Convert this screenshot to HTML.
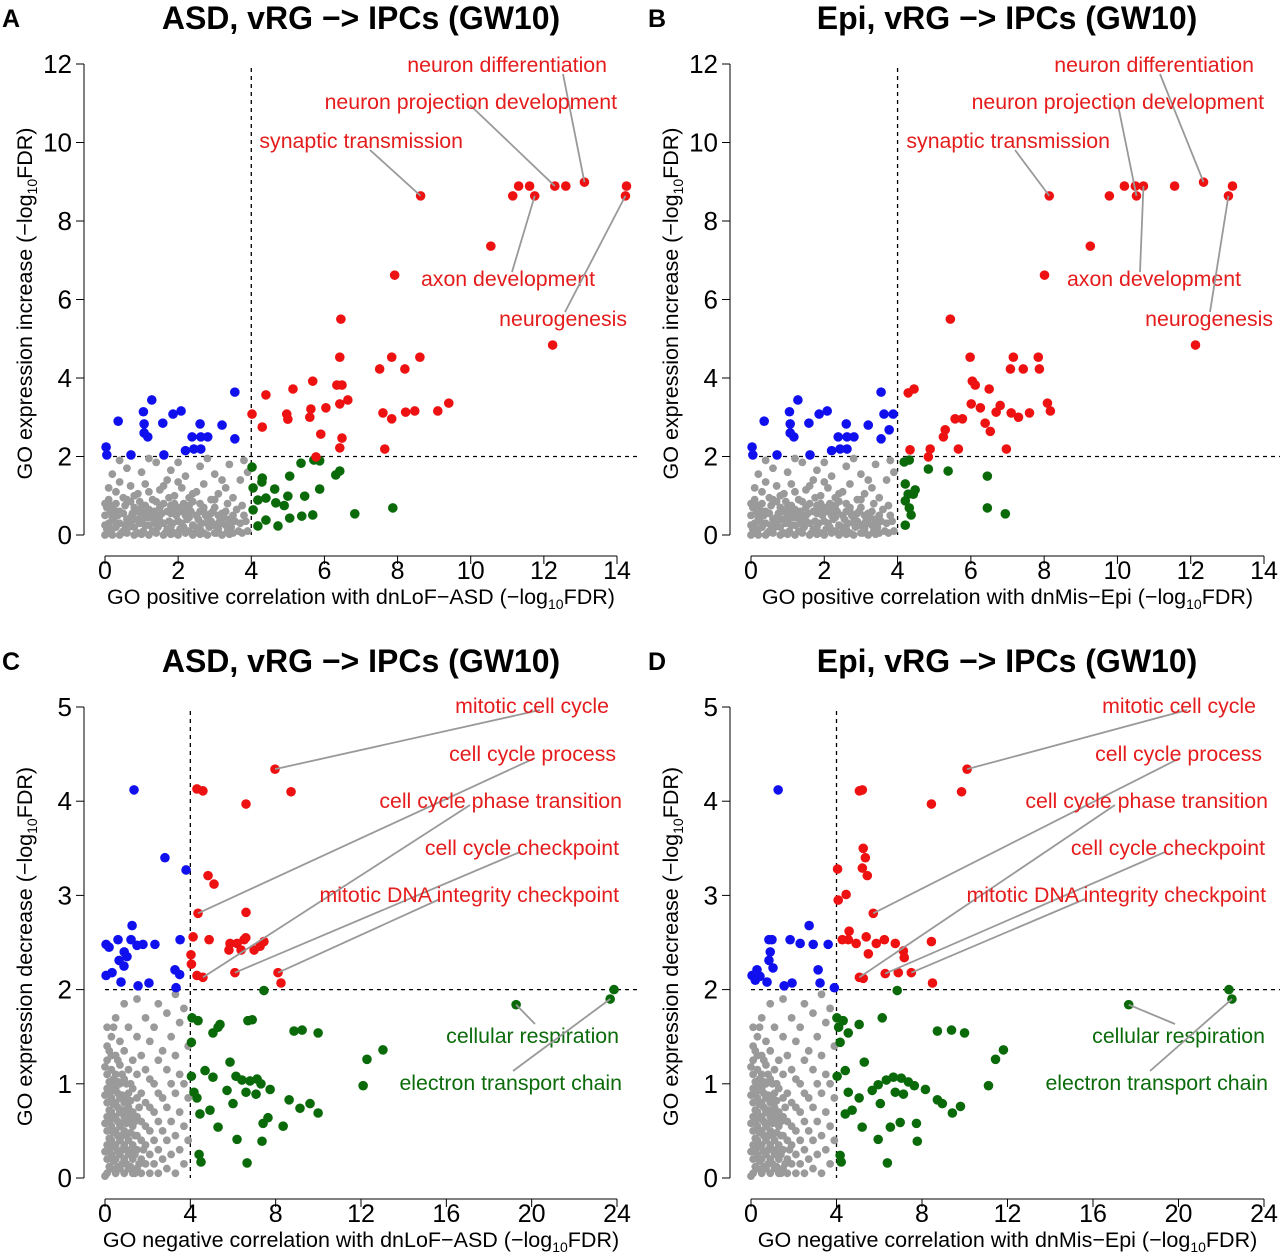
<!DOCTYPE html>
<html><head><meta charset="utf-8">
<style>
html,body{margin:0;padding:0;background:#fff;}
svg{display:block;font-family:"Liberation Sans",Arial,sans-serif;}
</style></head>
<body>
<svg id="fig" width="1280" height="1253" viewBox="0 0 1280 1253" xmlns="http://www.w3.org/2000/svg"></svg>
<script>
// ===== Data (x, y pairs in data units) =====
const redA = [8.63,8.64, 13.11,8.99, 12.30,8.89, 12.60,8.89, 11.31,8.89, 11.61,8.89, 11.15,8.64, 11.75,8.64, 14.26,8.89, 14.23,8.64, 10.55,7.36, 7.92,6.62, 12.24,4.84, 6.45,5.50, 6.42,4.53, 7.51,4.23, 7.84,4.53, 8.61,4.53, 8.20,4.23, 5.68,3.92, 5.14,3.72, 6.34,3.82, 6.48,3.82, 4.40,3.57, 9.40,3.36, 9.10,3.16, 8.47,3.16, 4.02,3.08, 4.97,3.08, 5.63,3.21, 6.04,3.24, 6.42,3.34, 6.64,3.44, 7.60,3.11, 7.84,2.96, 8.22,3.13, 5.90,2.57, 6.48,2.47, 7.65,2.19, 5.77,1.99, 6.42,2.22, 4.30,2.75, 5.0,2.95, 5.6,3.0];
const greenA = [4.02,1.73, 4.29,1.35, 4.64,1.17, 5.05,1.50, 5.36,1.83, 5.71,1.91, 5.87,1.89, 6.31,1.53, 6.42,1.63, 4.40,0.94, 4.05,0.64, 4.40,0.38, 5.05,0.43, 5.38,0.48, 5.68,0.51, 6.83,0.54, 7.87,0.69, 4.18,0.89, 4.67,0.82, 5.00,0.99, 5.87,1.17, 5.46,0.99, 4.05,1.20, 4.73,0.23, 4.18,0.23, 4.30,1.45, 4.9,0.75];
const blueA = [0.03,2.24, 0.05,2.04, 0.71,2.04, 1.17,2.50, 1.07,2.83, 1.28,3.44, 1.05,3.14, 0.36,2.90, 1.07,2.60, 1.58,2.85, 1.61,2.04, 1.86,3.08, 2.08,3.16, 2.38,2.50, 2.60,2.83, 2.81,2.50, 2.62,2.19, 2.43,2.19, 3.20,2.80, 3.55,3.64, 3.55,2.45, 2.62,2.50, 2.2,2.15];
const redB = [8.14,8.64, 12.35,8.99, 10.49,8.89, 10.71,8.89, 10.19,8.89, 9.78,8.64, 10.52,8.64, 11.56,8.89, 13.14,8.89, 13.03,8.64, 9.26,7.36, 8.01,6.62, 12.13,4.84, 5.44,5.50, 4.29,3.62, 4.45,3.72, 5.98,4.53, 6.04,3.92, 6.12,3.82, 7.16,4.53, 7.84,4.53, 7.87,4.23, 7.43,4.23, 7.08,4.23, 8.09,3.36, 8.17,3.16, 6.50,3.72, 6.01,3.34, 5.77,2.96, 5.57,2.96, 5.25,2.50, 6.26,3.24, 6.69,3.13, 7.10,3.11, 7.60,3.11, 6.97,2.19, 6.39,2.85, 4.89,2.19, 5.66,2.19, 5.30,2.68, 6.53,2.64, 4.34,2.17, 4.84,1.99, 6.8,3.3, 7.3,3.0];
const greenB = [4.18,1.86, 4.32,1.91, 4.21,1.30, 4.29,1.04, 4.43,1.04, 4.21,0.87, 4.37,0.51, 4.21,0.25, 4.84,1.68, 5.38,1.63, 6.45,1.50, 6.45,0.69, 6.94,0.54, 4.32,0.69, 4.48,1.15];
const blueB = [0.03,2.24, 0.05,2.04, 0.71,2.04, 1.17,2.50, 1.07,2.83, 1.28,3.44, 1.05,3.14, 0.36,2.90, 1.07,2.60, 1.58,2.85, 1.61,2.04, 1.86,3.08, 2.08,3.16, 2.38,2.50, 2.60,2.83, 2.81,2.50, 2.62,2.19, 2.43,2.19, 3.20,2.80, 3.55,3.64, 3.55,2.45, 2.62,2.50, 2.2,2.15, 3.63,3.08, 3.88,3.08, 3.77,2.68];
const grayAB = [0.1,0.05, 0.3,0.2, 0.5,0.1, 0.7,0.3, 0.9,0.05, 1.1,0.25, 1.3,0.1, 1.5,0.35, 1.7,0.15, 1.9,0.05, 2.1,0.3, 2.3,0.1, 2.5,0.2, 2.7,0.05, 2.9,0.35, 3.1,0.15, 3.3,0.25, 3.5,0.05, 3.7,0.3, 3.9,0.1,
 0.2,0.45, 0.4,0.6, 0.6,0.4, 0.8,0.7, 1.0,0.5, 1.2,0.65, 1.4,0.45, 1.6,0.8, 1.8,0.55, 2.0,0.7, 2.2,0.5, 2.4,0.85, 2.6,0.6, 2.8,0.45, 3.0,0.7, 3.2,0.55, 3.4,0.4, 3.6,0.65, 3.8,0.5,
 0.1,0.9, 0.3,1.1, 0.5,0.95, 0.7,1.25, 0.9,1.05, 1.1,1.3, 1.3,0.9, 1.5,1.15, 1.7,1.4, 1.9,1.0, 2.1,1.2, 2.3,0.95, 2.5,1.1, 2.7,1.3, 2.9,0.9, 3.1,1.05, 3.3,1.2, 3.5,0.95, 3.7,1.4, 3.9,1.6,
 0.2,1.55, 0.6,1.7, 1.0,1.6, 1.4,1.85, 1.8,1.65, 2.2,1.5, 2.6,1.75, 3.0,1.55, 3.4,1.8, 3.8,1.9, 0.4,1.9, 1.2,1.95, 2.0,1.85, 2.8,1.95,
 0.05,0.15, 0.25,0.35, 0.45,0.05, 0.65,0.2, 0.85,0.4, 1.05,0.1, 1.25,0.45, 1.45,0.2, 1.65,0.05, 1.85,0.3, 2.05,0.15, 2.25,0.4, 2.45,0.05, 2.65,0.3, 2.85,0.2, 3.05,0.05, 3.25,0.45, 3.45,0.2, 3.65,0.1, 3.85,0.35,
 0.15,0.6, 0.55,0.75, 0.95,0.85, 1.35,0.6, 1.75,0.95, 2.15,0.8, 2.55,0.4, 2.95,0.6, 3.35,0.8, 3.75,0.75,
 0.1,0.3, 0.2,0.15, 0.35,0.5, 0.55,0.25, 0.75,0.55, 0.95,0.3, 1.15,0.45, 1.35,0.3, 1.55,0.55, 1.75,0.35, 1.95,0.5, 2.15,0.2, 2.35,0.6, 2.55,0.1, 2.75,0.5, 2.95,0.25, 3.15,0.4, 3.35,0.1, 3.55,0.35, 3.75,0.05,
 0.05,0.7, 0.3,0.8, 0.5,0.55, 0.7,0.85, 0.9,0.6, 1.1,0.75, 1.3,0.5, 1.5,0.7, 1.7,0.6, 1.9,0.8, 2.1,0.6, 2.3,0.75, 2.5,0.5, 2.7,0.7, 2.9,0.55, 3.1,0.3, 3.3,0.6, 3.5,0.5, 0.1,1.2, 0.4,1.35, 0.8,1.0, 1.2,1.1, 1.6,1.25, 2.0,1.35, 2.4,1.05, 3.2,1.4,
 0.0,0.0, 0.2,0.0, 0.4,0.0, 0.6,0.05, 0.8,0.0, 1.0,0.02, 1.2,0.0, 1.4,0.05, 1.6,0.0, 1.8,0.02, 2.0,0.0, 2.2,0.05, 2.4,0.0, 2.6,0.02, 2.8,0.0, 3.0,0.05, 3.2,0.0, 3.4,0.02,
 0.0,0.25, 0.4,0.3, 0.6,0.3, 0.8,0.2, 1.0,0.35, 1.2,0.25, 1.6,0.3, 1.8,0.2, 2.0,0.35, 2.4,0.25, 2.6,0.15, 2.8,0.3, 3.0,0.25, 3.2,0.3, 3.4,0.3, 0.0,0.5, 0.3,0.6, 0.7,0.45, 1.1,0.55, 1.5,0.5, 1.9,0.65, 2.3,0.45, 2.7,0.6, 3.1,0.5, 0.0,0.8, 0.2,0.75, 0.6,0.9, 1.0,0.7, 1.4,0.85, 1.8,0.75, 2.2,0.65, 2.6,0.8, 3.0,0.9];
const redC = [7.97,4.34, 4.31,4.13, 4.59,4.11, 6.61,3.97, 8.72,4.10, 4.83,3.21, 5.11,3.12, 4.36,2.81, 6.61,2.82, 6.52,2.53, 6.19,2.49, 5.86,2.49, 6.38,2.42, 6.99,2.42, 7.27,2.46, 7.45,2.51, 4.13,2.56, 4.03,2.37, 4.31,2.15, 4.59,2.13, 4.05,2.27, 6.09,2.18, 8.11,2.18, 8.25,2.07, 5.81,2.42, 4.88,2.53, 6.6,2.55];
const blueC = [1.36,4.12, 2.81,3.40, 3.80,3.27, 1.27,2.68, 0.61,2.53, 1.22,2.53, 0.05,2.48, 0.19,2.45, 2.34,2.48, 1.78,2.48, 3.52,2.53, 0.05,2.15, 0.33,2.18, 0.89,2.25, 1.03,2.35, 0.75,2.08, 1.55,2.04, 2.06,2.07, 3.28,2.21, 3.33,2.02, 0.66,2.31, 0.9,2.4, 1.5,2.47, 3.5,2.16];
const greenC = [23.86,2.00, 23.68,1.90, 19.27,1.84, 4.08,1.70, 4.36,1.67, 5.06,1.54, 5.39,1.63, 6.70,1.67, 7.45,1.99, 8.86,1.56, 9.24,1.57, 9.99,1.54, 13.03,1.36, 12.28,1.26, 12.10,0.98, 4.05,1.44, 4.05,1.08, 4.69,1.14, 4.17,0.91, 5.06,1.07, 5.86,1.23, 6.14,1.08, 6.42,1.04, 6.80,1.03, 7.13,1.05, 7.31,1.00, 6.61,0.91, 7.74,0.94, 8.63,0.83, 9.61,0.79, 9.99,0.69, 9.14,0.74, 4.92,0.72, 4.45,0.68, 5.30,0.54, 7.36,0.39, 7.41,0.58, 8.35,0.55, 6.19,0.41, 4.41,0.25, 4.50,0.17, 6.66,0.16, 4.31,0.85, 5.72,0.93, 6.00,0.79, 7.08,0.89, 7.64,0.64, 5.3,1.6, 6.9,1.68];
const redD = [10.11,4.34, 5.07,4.11, 5.21,4.12, 8.44,3.97, 9.85,4.10, 5.25,3.50, 5.35,3.40, 5.21,3.29, 5.44,3.21, 5.72,2.81, 4.05,3.28, 4.08,2.95, 4.45,3.01, 4.27,2.53, 4.55,2.53, 4.92,2.49, 4.59,2.62, 5.39,2.56, 5.86,2.49, 6.24,2.53, 6.75,2.49, 7.13,2.41, 7.17,2.34, 6.89,2.18, 6.28,2.17, 8.44,2.51, 8.49,2.07, 5.07,2.13, 5.25,2.12, 7.50,2.18, 5.49,2.38];
const blueD = [1.27,4.12, 0.84,2.53, 0.98,2.53, 1.83,2.53, 2.30,2.49, 2.91,2.48, 2.72,2.68, 0.05,2.15, 0.28,2.21, 0.84,2.31, 1.03,2.23, 0.75,2.08, 1.55,2.04, 1.92,2.07, 3.23,2.07, 3.14,2.21, 3.61,2.48, 3.90,2.02, 0.42,2.14, 0.9,2.4, 0.2,2.1];
const greenD = [22.36,2.00, 22.50,1.90, 17.67,1.84, 4.02,1.70, 4.31,1.67, 4.55,1.54, 5.06,1.63, 6.14,1.70, 6.84,1.99, 8.72,1.56, 9.38,1.57, 9.99,1.54, 11.81,1.36, 11.44,1.26, 11.11,0.98, 4.17,1.44, 4.03,1.08, 4.41,1.14, 4.55,0.91, 5.30,1.23, 5.95,0.99, 6.33,1.04, 6.66,1.07, 7.03,1.06, 7.36,1.02, 7.64,0.98, 6.75,0.91, 8.16,0.94, 8.72,0.83, 8.95,0.79, 9.80,0.76, 9.42,0.69, 4.73,0.72, 4.41,0.68, 5.20,0.54, 6.52,0.54, 6.98,0.59, 7.78,0.39, 5.95,0.41, 4.17,0.24, 4.22,0.17, 6.38,0.16, 5.06,0.85, 5.67,0.93, 6.05,0.79, 7.13,0.89, 7.74,0.58, 4.1,1.6];
const grayCD = [0.1,0.05, 0.1,0.2, 0.1,0.35, 0.1,0.5, 0.1,0.65, 0.1,0.8, 0.1,0.95, 0.1,1.1, 0.1,1.25, 0.1,1.4, 0.1,1.6,
 0.3,0.1, 0.3,0.25, 0.3,0.4, 0.3,0.55, 0.3,0.7, 0.3,0.85, 0.3,1.0, 0.3,1.15, 0.3,1.3, 0.3,1.5,
 0.5,0.05, 0.5,0.2, 0.5,0.35, 0.5,0.5, 0.5,0.65, 0.5,0.8, 0.5,0.95, 0.5,1.1, 0.5,1.3, 0.5,1.7,
 0.7,0.1, 0.7,0.25, 0.7,0.4, 0.7,0.55, 0.7,0.7, 0.7,0.85, 0.7,1.0, 0.7,1.2, 0.7,1.45,
 0.9,0.05, 0.9,0.2, 0.9,0.35, 0.9,0.5, 0.9,0.65, 0.9,0.8, 0.9,1.05, 0.9,1.35, 0.9,1.85,
 1.1,0.1, 1.1,0.25, 1.1,0.4, 1.1,0.6, 1.1,0.75, 1.1,0.9, 1.1,1.15, 1.1,1.6,
 1.3,0.05, 1.3,0.2, 1.3,0.35, 1.3,0.55, 1.3,0.7, 1.3,0.95, 1.3,1.25,
 1.5,0.1, 1.5,0.3, 1.5,0.45, 1.5,0.65, 1.5,0.85, 1.5,1.1, 1.5,1.5, 1.5,1.9,
 1.7,0.05, 1.7,0.2, 1.7,0.4, 1.7,0.6, 1.7,0.9, 1.7,1.3,
 1.9,0.15, 1.9,0.35, 1.9,0.55, 1.9,0.8, 1.9,1.15, 1.9,1.7,
 2.1,0.05, 2.1,0.25, 2.1,0.5, 2.1,0.75, 2.1,1.05, 2.1,1.45,
 2.3,0.15, 2.3,0.4, 2.3,0.7, 2.3,1.0, 2.3,1.6,
 2.5,0.05, 2.5,0.3, 2.5,0.6, 2.5,0.9, 2.5,1.25, 2.5,1.85,
 2.7,0.2, 2.7,0.5, 2.7,0.85, 2.7,1.35, 2.9,0.1, 2.9,0.4, 2.9,0.75, 2.9,1.15, 2.9,1.75,
 3.1,0.25, 3.1,0.6, 3.1,1.0, 3.1,1.5, 3.3,0.05, 3.3,0.45, 3.3,0.9, 3.3,1.3, 3.3,1.95,
 3.5,0.3, 3.5,0.7, 3.5,1.1, 3.5,1.65, 3.7,0.15, 3.7,0.55, 3.7,1.0, 3.7,1.8, 3.9,0.4, 3.9,0.85, 3.9,1.4,
 0.2,0.12, 0.2,0.42, 0.2,0.72, 0.2,1.02, 0.4,0.18, 0.4,0.48, 0.4,0.78, 0.4,1.05, 0.6,0.12, 0.6,0.45, 0.6,0.75, 0.6,1.02,
 0.8,0.15, 0.8,0.45, 0.8,0.72, 1.0,0.15, 1.0,0.45, 1.0,0.7, 1.2,0.12, 1.2,0.48, 1.2,0.82, 1.4,0.25, 1.4,0.6, 0.2,1.35, 0.6,1.25, 0.4,1.6,
 0.0,0.02, 0.0,0.28, 0.0,0.58, 0.0,0.88, 0.0,1.18, 0.2,0.28, 0.2,0.58, 0.2,0.88, 0.4,0.33, 0.4,0.63, 0.4,0.93, 0.6,0.28, 0.6,0.6, 0.6,0.9,
 0.8,0.3, 0.8,0.58, 0.8,0.88, 1.0,0.3, 1.0,0.58, 1.0,0.85, 1.2,0.3, 1.2,0.65, 1.0,1.0, 0.8,1.1, 1.4,0.05, 1.4,0.45, 1.6,0.15, 1.6,0.75, 1.8,0.3, 1.2,1.0];
const xTicksAB = [0,2,4,6,8,10,12,14];
const yTicksAB = [0,2,4,6,8,10,12];
const xTicksCD = [0,4,8,12,16,20,24];
const yTicksCD = [0,1,2,3,4,5];

const NS = "http://www.w3.org/2000/svg";
const svg = document.getElementById('fig');
function el(tag, attrs, parent, text){
  const e = document.createElementNS(NS, tag);
  for (const k in attrs) e.setAttribute(k, attrs[k]);
  if (text !== undefined) e.textContent = text;
  (parent || svg).appendChild(e);
  return e;
}

function panel(p){
  const g = el('g', {});
  
  
  const sx = v => p.x0 + (v - p.xmin) / (p.xmax - p.xmin) * (p.x1 - p.x0);
  const sy = v => p.y0 - (v - p.ymin) / (p.ymax - p.ymin) * (p.y0 - p.y1);
  const lt = el('text', {x: p.letterX, y: p.titleY - 2, 'font-size': 25, 'font-weight': 'bold'}, g, p.letter);
  
  
  const tt = el('text', {x: p.titleX, y: p.titleY, 'font-size': 32, 'font-weight': 'bold', 'text-anchor': 'middle'}, g, p.title);
  
  
  const ya = el('line', {x1: p.yAxisX, x2: p.yAxisX, y1: sy(p.ymax), y2: sy(p.ymin), stroke: '#000', 'stroke-width': 1}, g);
  
  
  p.yTicks.forEach(t => {
    const tk = el('line', {x1: p.yAxisX - 8, x2: p.yAxisX, y1: sy(t), y2: sy(t), stroke: '#000'}, g);
    
    
    const tl = el('text', {x: p.yAxisX - 12, y: sy(t) + 9, 'font-size': 26, 'text-anchor': 'end'}, g, String(t));
    
    
  });
  const xa = el('line', {x1: sx(p.xmin), x2: sx(p.xmax), y1: p.xAxisY, y2: p.xAxisY, stroke: '#000'}, g);
  
  
  p.xTicks.forEach(t => {
    const tk = el('line', {x1: sx(t), x2: sx(t), y1: p.xAxisY, y2: p.xAxisY + 8, stroke: '#000'}, g);
    
    
    const tl = el('text', {x: sx(t), y: p.xAxisY + 23, 'font-size': 25, 'text-anchor': 'middle'}, g, String(t));
    
    
  });
  const xt = el('text', {x: (sx(p.xmin)+sx(p.xmax))/2, y: p.xAxisY + 48, 'font-size': 21.5, 'text-anchor': 'middle'}, g);
  
  
  el('tspan', {}, xt, p.xTitle + ' (\u2212log');
  el('tspan', {'font-size': 14, dy: 5}, xt, '10');
  el('tspan', {dy: -5}, xt, 'FDR)');
  const cy = (p.y0 + p.y1)/2 + 4;
  const yt = el('text', {x: 0, y: 0, 'font-size': 21.5, 'text-anchor': 'middle', transform: `translate(${p.yTitleX},${cy}) rotate(-90)`}, g);
  
  
  el('tspan', {}, yt, p.yTitle + ' (\u2212log');
  el('tspan', {'font-size': 14, dy: 5}, yt, '10');
  el('tspan', {dy: -5}, yt, 'FDR)');
  const vd = el('line', {x1: sx(4), x2: sx(4), y1: p.vTop, y2: sy(p.ymin), stroke: '#000', 'stroke-dasharray': '4,4', 'stroke-width': 1.3}, g);
  
  
  const hd = el('line', {x1: sx(p.xmin), x2: p.hRight, y1: sy(2), y2: sy(2), stroke: '#000', 'stroke-dasharray': '4,4', 'stroke-width': 1.3}, g);
  
  
  function pts(arr, color, r, nm){
    for (let i = 0; i < arr.length; i += 2){
      const c = el('circle', {cx: sx(arr[i]), cy: sy(arr[i+1]), r: r, fill: color}, g);
      
      
    }
  }
  pts(p.gray, '#9a9a9a', 3.9, 'point-nonsignificant');
  pts(p.green, '#0a6a0a', 4.8, 'point-green');
  pts(p.blue, '#1010ee', 4.8, 'point-blue');
  pts(p.red, '#ee1111', 4.8, 'point-red');
  p.labels.forEach(L => {
    L.targets.forEach(tg => {
      const ln = el('line', {x1: L.lx, y1: L.ly, x2: sx(tg[0]), y2: sy(tg[1]), stroke: '#999', 'stroke-width': 1.8}, g);
      
      
    });
    const t = el('text', {x: L.x, y: L.y, 'font-size': 21.3, 'text-anchor': 'end', fill: L.color}, g, L.text);
    
    
  });
}

const R = '#e51c1c', G = '#0b6b0b';
const baseAB = {xmin:0,xmax:14,ymin:0,ymax:12,y0:535,y1:64,xTicks:xTicksAB,yTicks:yTicksAB,titleY:29,xAxisY:556,vTop:68,yTitle:'GO expression increase'};
const baseCD = {xmin:0,xmax:24,ymin:0,ymax:5,y0:1178,y1:707,xTicks:xTicksCD,yTicks:yTicksCD,titleY:672,xAxisY:1199,vTop:711,yTitle:'GO expression decrease'};

panel(Object.assign({}, baseAB, {name:'panel-a', letter:'A', letterX:2, title:'ASD, vRG \u2212> IPCs (GW10)', titleX:361,
  x0:105, x1:617, yAxisX:84, yTitleX:32, hRight:640, xTitle:'GO positive correlation with dnLoF\u2212ASD',
  red:redA, green:greenA, blue:blueA, gray:grayAB,
  labels:[
    {text:'neuron differentiation', x:607, y:72, color:R, lx:563, ly:74, targets:[[13.11,8.99]]},
    {text:'neuron projection development', x:617, y:109, color:R, lx:470, ly:105, targets:[[12.30,8.89]]},
    {text:'synaptic transmission', x:463, y:148, color:R, lx:370, ly:150, targets:[[8.63,8.64]]},
    {text:'axon development', x:595, y:286, color:R, lx:512, ly:272, targets:[[11.75,8.64]]},
    {text:'neurogenesis', x:627, y:326, color:R, lx:565, ly:312, targets:[[14.23,8.64]]}
  ]}));
panel(Object.assign({}, baseAB, {name:'panel-b', letter:'B', letterX:648, title:'Epi, vRG \u2212> IPCs (GW10)', titleX:1007,
  x0:751, x1:1264, yAxisX:730, yTitleX:678, hRight:1280, xTitle:'GO positive correlation with dnMis\u2212Epi',
  red:redB, green:greenB, blue:blueB, gray:grayAB,
  labels:[
    {text:'neuron differentiation', x:1254, y:72, color:R, lx:1160, ly:74, targets:[[12.35,8.99]]},
    {text:'neuron projection development', x:1264, y:109, color:R, lx:1118, ly:105, targets:[[10.52,8.64]]},
    {text:'synaptic transmission', x:1110, y:148, color:R, lx:1015, ly:150, targets:[[8.14,8.64]]},
    {text:'axon development', x:1241, y:286, color:R, lx:1140, ly:272, targets:[[10.71,8.89]]},
    {text:'neurogenesis', x:1273, y:326, color:R, lx:1210, ly:312, targets:[[13.03,8.64]]}
  ]}));
panel(Object.assign({}, baseCD, {name:'panel-c', letter:'C', letterX:2, title:'ASD, vRG \u2212> IPCs (GW10)', titleX:361,
  x0:105, x1:617, yAxisX:84, yTitleX:32, hRight:640, xTitle:'GO negative correlation with dnLoF\u2212ASD',
  red:redC, green:greenC, blue:blueC, gray:grayCD,
  labels:[
    {text:'mitotic cell cycle', x:609, y:713, color:R, lx:540, ly:710, targets:[[7.97,4.34]]},
    {text:'cell cycle process', x:616, y:761, color:R, lx:535, ly:758, targets:[[4.36,2.81]]},
    {text:'cell cycle phase transition', x:622, y:808, color:R, lx:470, ly:805, targets:[[4.59,2.13]]},
    {text:'cell cycle checkpoint', x:619, y:855, color:R, lx:520, ly:852, targets:[[6.09,2.18]]},
    {text:'mitotic DNA integrity checkpoint', x:619, y:902, color:R, lx:440, ly:899, targets:[[8.11,2.18]]},
    {text:'cellular respiration', x:619, y:1043, color:G, lx:535, ly:1024, targets:[[19.27,1.84]]},
    {text:'electron transport chain', x:622, y:1090, color:G, lx:513, ly:1071, targets:[[23.68,1.90]]}
  ]}));
panel(Object.assign({}, baseCD, {name:'panel-d', letter:'D', letterX:648, title:'Epi, vRG \u2212> IPCs (GW10)', titleX:1007,
  x0:751, x1:1264, yAxisX:730, yTitleX:678, hRight:1280, xTitle:'GO negative correlation with dnMis\u2212Epi',
  red:redD, green:greenD, blue:blueD, gray:grayCD,
  labels:[
    {text:'mitotic cell cycle', x:1256, y:713, color:R, lx:1187, ly:710, targets:[[10.11,4.34]]},
    {text:'cell cycle process', x:1262, y:761, color:R, lx:1180, ly:758, targets:[[5.72,2.81]]},
    {text:'cell cycle phase transition', x:1268, y:808, color:R, lx:1115, ly:805, targets:[[5.07,2.13]]},
    {text:'cell cycle checkpoint', x:1265, y:855, color:R, lx:1165, ly:852, targets:[[6.28,2.17]]},
    {text:'mitotic DNA integrity checkpoint', x:1266, y:902, color:R, lx:1085, ly:899, targets:[[7.50,2.18]]},
    {text:'cellular respiration', x:1265, y:1043, color:G, lx:1175, ly:1024, targets:[[17.67,1.84]]},
    {text:'electron transport chain', x:1268, y:1090, color:G, lx:1150, ly:1071, targets:[[22.50,1.90]]}
  ]}));
</script>
</body></html>
